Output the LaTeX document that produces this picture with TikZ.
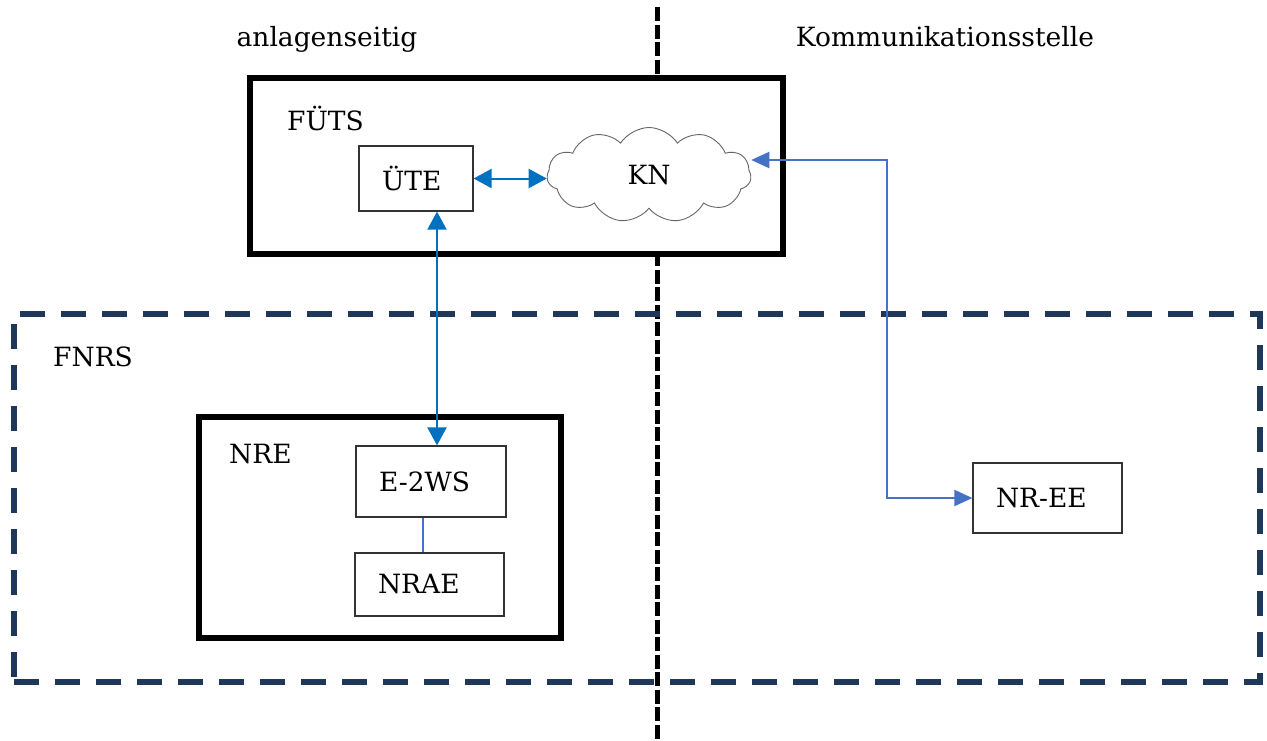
\documentclass[tikz,border=0pt]{standalone}
\usepackage{fontspec}
\setmainfont{DejaVu Serif}
\usetikzlibrary{arrows.meta,shapes.symbols}
\definecolor{arrowblue}{RGB}{0,112,192}
\definecolor{lightblue}{RGB}{68,114,196}
\definecolor{navy}{RGB}{31,56,90}
\begin{document}
\begin{tikzpicture}[x=1pt,y=-1pt,
  every node/.style={font=\fontsize{26.5}{30}\selectfont},
  bigbox/.style={draw=black, line width=6pt, fill=white, rectangle, inner sep=0pt},
  smallbox/.style={draw=black!80, line width=1.2pt, fill=white, rectangle, align=left, inner xsep=23pt, inner ysep=0pt},
  lbl/.style={anchor=base west, inner sep=0pt},
  hdr/.style={anchor=base, inner sep=0pt},
  barrow/.style={arrowblue, line width=2pt, {Triangle[length=18pt,width=19pt]}-{Triangle[length=18pt,width=19pt]}},
  larrow/.style={lightblue, line width=2pt, {Triangle[length=18pt,width=16pt]}-{Triangle[length=18pt,width=16pt]}},
  divider/.style={black, line width=5pt, dash pattern=on 14pt off 3.5pt}
]
\useasboundingbox (0,0) rectangle (1267,740);
% headers
\node[hdr] (h1) at (327,46) {anlagenseitig};
\node[hdr] (h2) at (945,46) {Kommunikationsstelle};
% vertical divider
\coordinate (dtop) at (657,7);
\coordinate (dbot) at (657,740);
\draw[divider] (dtop) -- (dbot);
% FNRS dashed area
\node[draw=navy, line width=5.5pt, dash pattern=on 25pt off 16pt, rectangle, inner sep=0pt,
      minimum width=1246pt, minimum height=368pt] (fnrs) at (637,498) {};
\node[lbl] (fnrslbl) at (53,366) {FNRS};
% FUeTS box
\node[bigbox, minimum width=533pt, minimum height=176pt] (futs) at (516.5,166) {};
\node[lbl] (futslbl) at (287,130) {FÜTS};
% NRE box
\node[bigbox, minimum width=362pt, minimum height=221pt] (nre) at (380,527.5) {};
\node[lbl] (nrelbl) at (229,463) {NRE};
% small boxes
\node[smallbox, text width=68pt, minimum height=65pt] (ute) at (416,178.5) {ÜTE};
\node[smallbox, text width=104pt, minimum height=71pt] (e2ws) at (431,481.5) {E-2WS};
\node[smallbox, text width=103pt, minimum height=63pt] (nrae) at (429.5,584.5) {NRAE};
\node[smallbox, text width=103pt, minimum height=70pt] (nree) at (1047.5,498) {NR-EE};
% cloud
\node[cloud, draw=black!60, line width=0.9pt, fill=white, cloud puffs=11, cloud puff arc=115,
      cloud ignores aspect, minimum width=204pt, minimum height=95pt, inner sep=0pt] (kn) at (649,175) {KN};
% connectors
\draw[barrow] (ute.east) -- (kn.west |- ute.east);
\coordinate (vx) at (437,0);
\draw[barrow] (ute.south -| vx) -- (e2ws.north -| vx);
\coordinate (lx) at (423,0);
\draw[lightblue, line width=1.6pt] (e2ws.south -| lx) -- (nrae.north -| lx);
\coordinate (bend) at (887,160);
\draw[larrow] (nree.west) -| (bend) -- (bend -| kn.east);
\end{tikzpicture}
\end{document}
